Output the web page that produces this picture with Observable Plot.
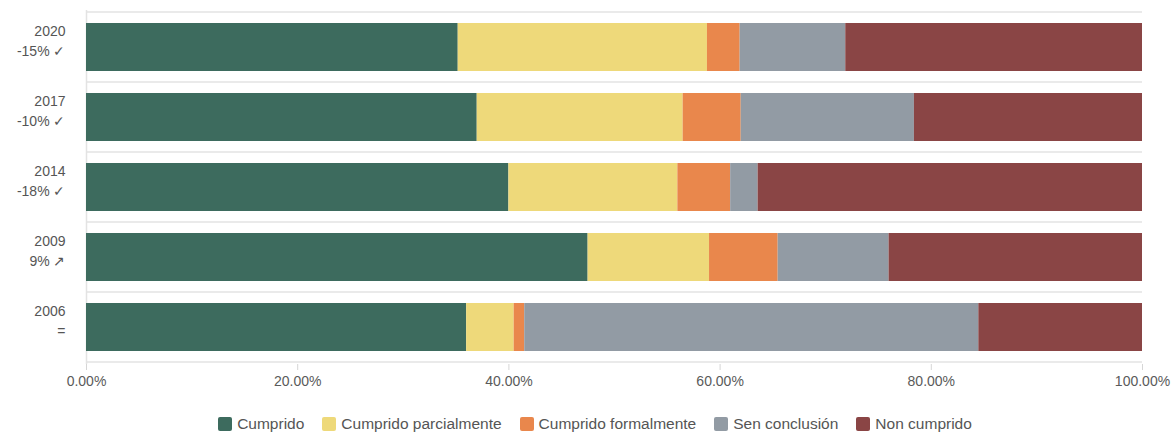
<!DOCTYPE html>
<html>
<head>
<meta charset="utf-8">
<script src="https://cdn.jsdelivr.net/npm/d3@7"></script>
<script src="https://cdn.jsdelivr.net/npm/@observablehq/plot@0.6"></script>
<style>
  body { margin: 0; background: #fff; font-family: "Liberation Sans", Arial, sans-serif; position: relative; width: 1174px; height: 435px; overflow: hidden; }
  #chart svg { display: block; }
  .legend { position: absolute; left: 0; right: 0; top: 415px; display: flex; justify-content: center; gap: 18px; font-size: 15.5px; line-height: 18px; color: #555; padding-left: 16px; }
  .legend .item { display: flex; align-items: center; gap: 5px; }
  .legend .sw { width: 14px; height: 14px; border-radius: 2px; display: inline-block; }
</style>
</head>
<body>
<div id="chart"></div>
<div class="legend" id="legend"></div>
<script>
// Survey years, top to bottom, with the change label shown under each year
const years = ["2020", "2017", "2014", "2009", "2006"];
const changes = ["-15% ✓", "-10% ✓", "-18% ✓", "9% ↗", "="];

// Outcome categories in stacking order and their colours
const categories = ["Cumprido", "Cumprido parcialmente", "Cumprido formalmente", "Sen conclusión", "Non cumprido"];
const colors = ["#3d6b5e", "#eed97a", "#e9874c", "#929ba4", "#8a4545"];

// Share of each outcome per year (percent)
const cumprido = [35.2, 37.0, 40.0, 47.5, 36.0];
const parcialmente = [23.6, 19.5, 16.0, 11.5, 4.5];
const formalmente = [3.1, 5.5, 5.0, 6.5, 1.0];
const senConclusion = [10.0, 16.4, 2.6, 10.5, 43.0];
const nonCumprido = [28.1, 21.6, 36.4, 24.0, 15.5];

// X axis tick values
const xTicks = [0, 0.2, 0.4, 0.6, 0.8, 1.0];

const series = [cumprido, parcialmente, formalmente, senConclusion, nonCumprido];
const rows = [];
years.forEach((year, i) => {
  categories.forEach((cat, j) => {
    rows.push({year, category: cat, value: series[j][i] / 100});
  });
});
const changeByYear = new Map(years.map((y, i) => [y, changes[i]]));

const chart = Plot.plot({
  width: 1174,
  height: 394,
  marginTop: 10,
  marginBottom: 30,
  marginLeft: 86,
  marginRight: 32,
  style: {fontFamily: "Liberation Sans, Arial, sans-serif", fontSize: "14px", background: "#fff"},
  x: {domain: [0, 1], label: null},
  y: {domain: years, paddingInner: 0.31, paddingOuter: 0.155, label: null},
  color: {domain: categories, range: colors},
  marks: [
    Plot.ruleX([0], {stroke: "#e3e3e3", strokeWidth: 1.5}),
    Plot.barX(rows, {x: "value", y: "year", fill: "category", order: categories}),
    Plot.axisX(xTicks, {tickSize: 6, tickPadding: 6, stroke: "#d6d6d6", fill: "#5a5a5a", tickFormat: d3.format(".2%"), fontSize: 14, label: null}),
    Plot.axisY({tickSize: 0, tickPadding: 21, fill: "#555", lineHeight: 1.45, dy: -8, fontSize: 14, label: null,
      tickFormat: d => d + "\n" + changeByYear.get(d)})
  ]
});
document.getElementById("chart").appendChild(chart);

// Light rules along the band edges, between bars
const ys = chart.scale("y");
const xs = chart.scale("x");
const gap = (ys.step - ys.bandwidth) / 2;
const edges = years.map(y => ys.apply(y) - gap);
edges.push(ys.apply(years[years.length - 1]) + ys.bandwidth + gap);
const g = d3.select(chart).insert("g", ":first-child");
g.selectAll("line").data(edges).join("line")
  .attr("x1", xs.apply(0)).attr("x2", xs.apply(1))
  .attr("y1", d => d).attr("y2", d => d)
  .attr("stroke", "#e3e3e3").attr("stroke-width", 1.5);

// Legend
const legend = d3.select("#legend");
categories.forEach((c, i) => {
  const item = legend.append("div").attr("class", "item");
  item.append("span").attr("class", "sw").style("background", colors[i]);
  item.append("span").text(c);
});
</script>
</body>
</html>
